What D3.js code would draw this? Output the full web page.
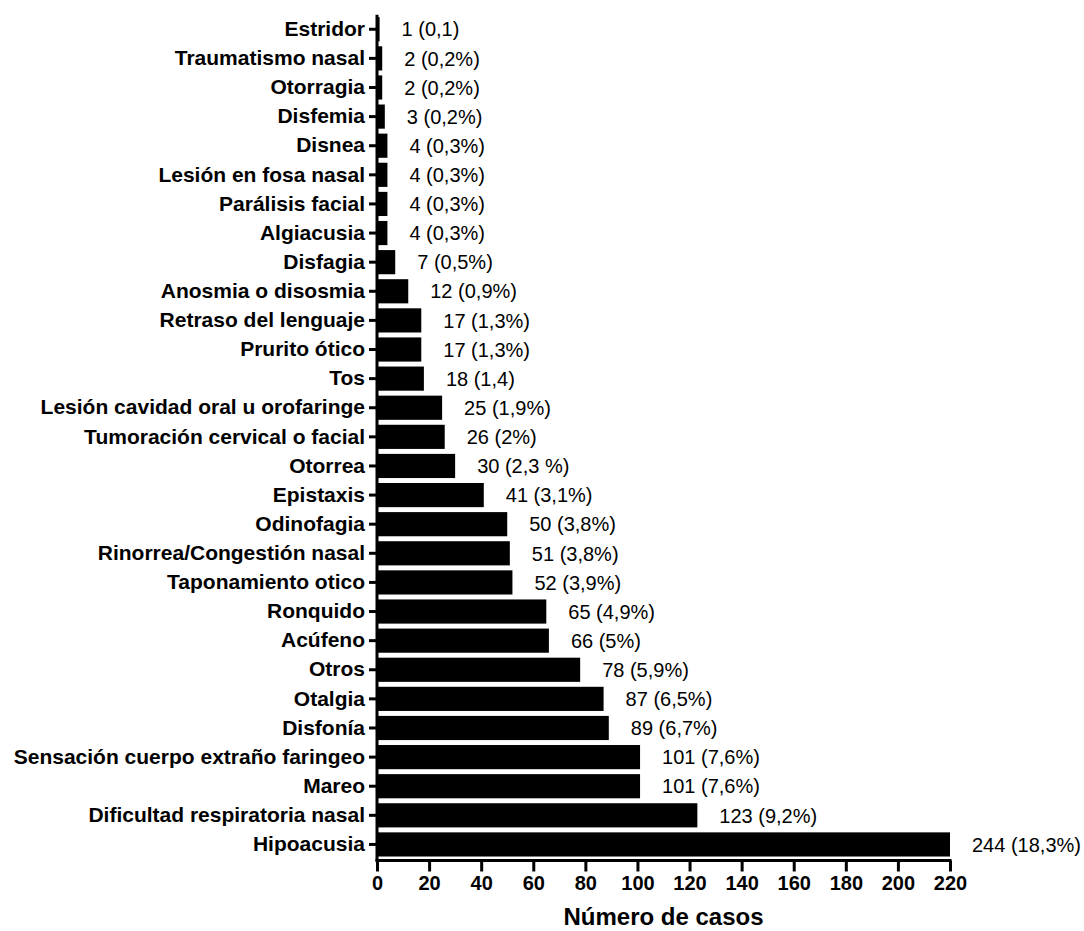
<!DOCTYPE html>
<html>
<head>
<meta charset="utf-8">
<script src="https://cdn.jsdelivr.net/npm/d3@7"></script>
<style>
  html, body { margin: 0; padding: 0; background: #fff; }
  svg { display: block; font-family: "Liberation Sans", Arial, sans-serif; }
</style>
</head>
<body>
<svg id="chart" width="1084" height="931"></svg>
<script>
const categories = [
  "Estridor", "Traumatismo nasal", "Otorragia", "Disfemia", "Disnea",
  "Lesión en fosa nasal", "Parálisis facial", "Algiacusia", "Disfagia",
  "Anosmia o disosmia", "Retraso del lenguaje", "Prurito ótico", "Tos",
  "Lesión cavidad oral u orofaringe", "Tumoración cervical o facial", "Otorrea",
  "Epistaxis", "Odinofagia", "Rinorrea/Congestión nasal", "Taponamiento otico",
  "Ronquido", "Acúfeno", "Otros", "Otalgia", "Disfonía",
  "Sensación cuerpo extraño faringeo", "Mareo", "Dificultad respiratoria nasal",
  "Hipoacusia"
];
const values = [1, 2, 2, 3, 4, 4, 4, 4, 7, 12, 17, 17, 18, 25, 26, 30, 41, 50, 51, 52,
  65, 66, 78, 87, 89, 101, 101, 123, 244];
const valueLabels = [
  "1 (0,1)", "2 (0,2%)", "2 (0,2%)", "3 (0,2%)", "4 (0,3%)", "4 (0,3%)", "4 (0,3%)",
  "4 (0,3%)", "7 (0,5%)", "12 (0,9%)", "17 (1,3%)", "17 (1,3%)", "18 (1,4)",
  "25 (1,9%)", "26 (2%)", "30 (2,3 %)", "41 (3,1%)", "50 (3,8%)", "51 (3,8%)",
  "52 (3,9%)", "65 (4,9%)", "66 (5%)", "78 (5,9%)", "87 (6,5%)", "89 (6,7%)",
  "101 (7,6%)", "101 (7,6%)", "123 (9,2%)", "244 (18,3%)"
];
const xTicks = [0, 20, 40, 60, 80, 100, 120, 140, 160, 180, 200, 220];
const xTitle = "Número de casos";

const data = categories.map((c, i) => ({ cat: c, value: values[i], label: valueLabels[i] }));

const svg = d3.select("#chart");
const x0 = 377, x1 = 950, yTop = 14.7, yBot = 859;

const x = d3.scaleLinear().domain([0, 220]).range([x0, x1]).clamp(true);
const y = d3.scaleBand().domain(categories).range([yTop, yBot]).paddingInner(0.17).paddingOuter(0.085);

// bars
svg.append("g").selectAll("rect").data(data).join("rect")
  .attr("x", x(0))
  .attr("y", d => y(d.cat))
  .attr("width", d => x(d.value) - x(0))
  .attr("height", y.bandwidth())
  .attr("fill", "#000");

// value labels
svg.append("g").selectAll("text").data(data).join("text")
  .attr("x", d => x(d.value) + 22)
  .attr("y", d => y(d.cat) + y.bandwidth() / 2)
  .attr("dy", "0.36em")
  .attr("font-size", 20)
  .attr("fill", "#000")
  .text(d => d.label);

// y axis
const yAxis = d3.axisLeft(y).tickSize(8).tickPadding(4).tickSizeOuter(0);
const gy = svg.append("g").attr("transform", `translate(${x0},0)`).call(yAxis);
gy.select(".domain").attr("stroke", "#000").attr("stroke-width", 3)
  .attr("d", `M0,${yTop}V${yBot + 2.5}`);
gy.selectAll(".tick line").attr("stroke", "#000").attr("stroke-width", 3);
gy.selectAll(".tick text")
  .attr("font-size", 21).attr("font-weight", "bold").attr("fill", "#000")
  .attr("font-family", "'Liberation Sans', Arial, sans-serif");

// x axis
const xAxis = d3.axisBottom(x).tickValues(xTicks).tickSize(11).tickPadding(4).tickSizeOuter(0);
const gx = svg.append("g").attr("transform", `translate(0,${yBot + 1.5})`).call(xAxis);
gx.select(".domain").attr("stroke", "#000").attr("stroke-width", 3)
  .attr("d", `M${x0 - 1.5},0H${x1 + 1.5}`);
gx.selectAll(".tick line").attr("stroke", "#000").attr("stroke-width", 3);
gx.selectAll(".tick text")
  .attr("font-size", 20).attr("font-weight", "bold").attr("fill", "#000")
  .attr("font-family", "'Liberation Sans', Arial, sans-serif");

// x title
svg.append("text")
  .attr("x", (x0 + x1) / 2)
  .attr("y", 925)
  .attr("text-anchor", "middle")
  .attr("font-size", 24)
  .attr("font-weight", "bold")
  .attr("fill", "#000")
  .text(xTitle);
</script>
</body>
</html>
